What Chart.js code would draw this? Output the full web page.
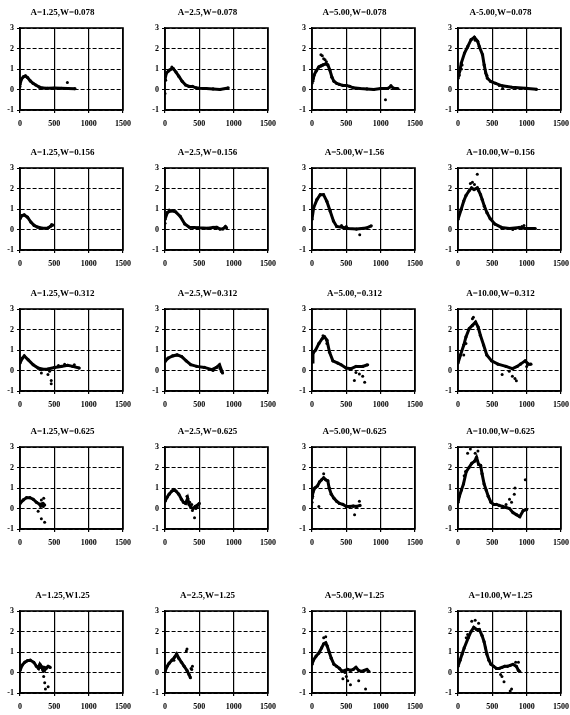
<!DOCTYPE html>
<html><head><meta charset="utf-8">
<script src="https://cdn.jsdelivr.net/npm/chart.js@4"></script>
<style>
html,body{margin:0;padding:0;background:#fff;width:570px;height:715px;overflow:hidden;position:relative}
canvas{position:absolute}
</style></head><body>
<script>
const titles = ["A=1.25,W=0.078","A=2.5,W=0.078","A=5.00,W=0.078","A-5.00,W=0.078",
 "A=1.25,W=0.156","A=2.5,W=0.156","A=5.00,W=1.56","A=10.00,W=0.156",
 "A=1.25,W=0.312","A=2.5,W=0.312","A=5.00,=0.312","A=10.00,W=0.312",
 "A=1.25,W=0.625","A=2.5,W=0.625","A=5.00,W=0.625","A=10.00,W=0.625",
 "A=1.25,W1.25","A=2.5,W=1.25","A=5.00,W=1.25","A=10.00,W=1.25"];
const xTicks = [0,500,1000,1500];
const yTicks = [-1,0,1,2,3];

const c1 = [[0,0.25],[20,0.5],[50,0.62],[80,0.66],[110,0.58],[150,0.42],[190,0.3],[230,0.22],[280,0.12],[330,0.07],[400,0.06],[500,0.07],[600,0.06],[700,0.05],[800,0.04]];
const o1 = [[690,0.34],[0,0.15]];
const c2 = [[0,0.5],[20,0.8],[50,0.9],[90,1.0],[120,1.02],[160,0.85],[200,0.65],[250,0.4],[300,0.22],[350,0.15],[400,0.15],[450,0.08],[500,0.06],[600,0.05],[700,0.03],[800,0.0],[880,0.05],[920,0.08]];
const o2 = [[0,-0.2],[10,0.45],[100,1.1],[60,0.95]];
const c3 = [[10,0.4],[30,0.7],[60,0.9],[100,1.1],[130,1.15],[160,1.2],[200,1.25],[230,1.2],[260,0.95],[290,0.6],[320,0.4],[360,0.3],[400,0.25],[450,0.2],[500,0.2],[550,0.15],[600,0.08],[700,0.05],[800,0.03],[900,0.0],[1000,0.05],[1100,0.05],[1150,0.15],[1200,0.05],[1250,0.05]];
const o3 = [[130,1.7],[150,1.65],[170,1.5],[190,1.45],[210,1.35],[0,0.3],[20,0.55],[1070,-0.5],[1150,0.2]];
const c4 = [[0,0.55],[24,0.88],[48,1.29],[95,1.78],[143,2.1],[190,2.43],[238,2.55],[286,2.35],[310,2.1],[357,1.7],[381,1.2],[405,0.8],[429,0.55],[476,0.39],[548,0.3],[643,0.18],[786,0.11],[976,0.06],[1143,0.01]];
const o4 = [[48,1.0],[60,1.2],[20,0.7],[250,2.4],[420,0.7],[600,0.2],[650,0.05]];
const c5 = [[0,0.52],[29,0.68],[62,0.71],[110,0.6],[158,0.36],[206,0.2],[254,0.12],[326,0.06],[398,0.06],[446,0.16],[479,0.22]];
const o5 = [[420,0.1],[460,0.25]];
const c6 = [[0,0.5],[35,0.83],[89,0.91],[155,0.86],[222,0.64],[288,0.27],[355,0.11],[488,0.08],[621,0.06],[700,0.1],[754,0.11],[800,0.02],[843,0.03],[880,0.14],[896,0.08]];
const o6 = [[0,0.3],[60,0.95]];
const c7 = [[0,0.5],[24,1.06],[72,1.46],[120,1.7],[168,1.7],[216,1.38],[264,0.9],[312,0.42],[359,0.15],[455,0.1],[527,0.05],[647,0.02],[791,0.07],[863,0.18]];
const o7 = [[0,0.8],[695,-0.25],[500,0.15],[430,0.2]];
const c8 = [[0,0.5],[47,0.99],[84,1.39],[117,1.66],[164,1.9],[197,2.03],[234,1.95],[281,2.03],[328,1.7],[352,1.46],[384,1.14],[422,0.82],[469,0.53],[539,0.26],[633,0.1],[750,0.05],[891,0.1],[984,0.05],[1125,0.05]];
const o8 = [[281,2.7],[210,2.3],[240,2.2],[300,1.9],[180,2.25],[797,0.0],[961,0.2],[930,0.15]];
const c9 = [[0,0.36],[34,0.6],[62,0.71],[120,0.52],[192,0.28],[264,0.12],[335,0.06],[407,0.07],[503,0.15],[599,0.2],[695,0.25],[767,0.2],[863,0.12]];
const o9 = [[311,-0.12],[407,-0.2],[431,-0.04],[455,-0.49],[455,-0.65],[791,0.28],[650,0.3],[560,0.25]];
const c10 = [[0,0.44],[44,0.6],[110,0.71],[176,0.76],[243,0.68],[309,0.47],[375,0.28],[463,0.2],[574,0.15],[684,0.04],[750,0.15],[794,0.28],[838,-0.12]];
const o10 = [[800,0.1],[700,0.0],[820,-0.05]];
const c11 = [[0,0.41],[14,0.84],[53,1.0],[101,1.32],[150,1.56],[183,1.64],[217,1.48],[256,0.89],[304,0.47],[376,0.36],[424,0.28],[497,0.12],[569,0.09],[641,0.2],[738,0.2],[810,0.28]];
const o11 = [[0,0.76],[217,1.32],[617,-0.49],[690,-0.17],[738,-0.28],[767,-0.57],[640,-0.1],[160,1.7]];
const c12 = [[0,0.36],[37,0.76],[84,1.24],[116,1.64],[163,2.04],[210,2.2],[256,2.36],[293,2.12],[326,1.72],[373,1.24],[419,0.76],[489,0.47],[582,0.31],[699,0.2],[792,0.09],[862,0.2],[909,0.31],[978,0.47],[1025,0.31],[1062,0.31]];
const o12 = [[224,2.6],[210,2.52],[116,1.32],[84,0.76],[643,-0.2],[746,-0.04],[792,-0.28],[829,-0.39],[850,-0.5],[1000,0.2]];
const c13 = [[0,0.25],[48,0.42],[96,0.53],[144,0.53],[192,0.45],[240,0.3],[288,0.2],[335,0.25],[359,0.17]];
const o13 = [[311,0.42],[345,0.5],[264,-0.13],[311,-0.5],[359,-0.67],[300,0.1],[340,0.1]];
const c14 = [[0,0.35],[30,0.55],[60,0.7],[100,0.85],[130,0.92],[160,0.85],[200,0.7],[240,0.45],[270,0.3],[300,0.25],[330,0.5],[350,0.2],[380,0.05],[410,0.0],[440,0.1],[470,0.15],[500,0.25]];
const o14 = [[320,0.6],[360,0.3],[400,-0.1],[430,-0.45],[450,0.0],[470,0.05],[390,0.2]];
const c15 = [[0,0.5],[15,0.8],[40,1.0],[80,1.1],[110,1.3],[140,1.4],[170,1.5],[200,1.4],[230,1.35],[250,1.0],[280,0.7],[320,0.5],[360,0.35],[400,0.25],[450,0.2],[500,0.1],[550,0.1],[600,0.12],[650,0.1],[700,0.15]];
const o15 = [[0,0.3],[10,0.6],[170,1.7],[100,0.1],[620,-0.3],[690,0.35]];
const c16 = [[0,0.3],[20,0.6],[50,0.9],[80,1.2],[120,1.8],[160,2.0],[200,2.2],[240,2.3],[270,2.5],[300,2.15],[330,2.1],[350,1.7],[380,1.2],[410,0.9],[440,0.6],[480,0.3],[520,0.2],[560,0.2],[600,0.15],[650,0.1],[700,0.05],[750,0.0],[800,-0.2],[850,-0.3],[900,-0.4],[950,-0.1],[1000,-0.05]];
const o16 = [[180,2.9],[140,2.7],[110,1.8],[90,1.6],[250,2.7],[290,2.8],[820,0.7],[830,1.0],[980,1.4],[750,0.45],[780,0.3],[700,0.2]];
const c17 = [[0,0.1],[30,0.35],[70,0.5],[110,0.58],[150,0.6],[200,0.5],[240,0.3],[270,0.2],[290,0.4],[310,0.3],[330,0.15],[350,0.25],[380,0.2],[410,0.3],[440,0.25]];
const o17 = [[300,0.25],[340,0.05],[345,-0.2],[360,-0.5],[370,-0.8],[410,-0.7],[360,0.1]];
const c18 = [[0,0.05],[30,0.3],[60,0.45],[100,0.6],[140,0.75],[170,0.9],[200,0.7],[240,0.5],[280,0.3],[320,0.1],[350,-0.1],[370,-0.25]];
const o18 = [[380,0.2],[400,0.3],[390,0.15],[310,1.05],[320,1.15],[130,0.6]];
const c19 = [[0,0.4],[20,0.6],[60,0.8],[100,0.95],[140,1.2],[170,1.4],[200,1.45],[220,1.3],[250,1.0],[280,0.7],[320,0.4],[360,0.3],[400,0.2],[440,0.05],[480,0.1],[520,0.15],[560,0.1],[600,0.15],[640,0.25],[680,0.1],[720,0.05],[760,0.1],[800,0.15],[830,0.05]];
const o19 = [[170,1.7],[200,1.75],[450,-0.3],[500,-0.2],[560,-0.6],[680,-0.4],[780,-0.8],[480,0.0],[520,-0.4]];
const c20 = [[0,0.3],[30,0.6],[60,0.9],[90,1.2],[150,1.7],[190,2.0],[230,2.2],[270,2.1],[310,2.1],[350,1.8],[380,1.5],[400,1.2],[420,0.9],[450,0.6],[480,0.4],[520,0.3],[560,0.2],[600,0.2],[640,0.25],[680,0.3],[720,0.3],[760,0.35],[800,0.4],[850,0.3],[880,0.1],[900,0.05]];
const o20 = [[200,2.5],[250,2.55],[300,2.4],[120,1.7],[140,1.85],[640,-0.2],[620,-0.1],[670,-0.45],[780,-0.8],[760,-0.9],[840,0.5],[880,0.5]];

const curves = [c1,c2,c3,c4,c5,c6,c7,c8,c9,c10,c11,c12,c13,c14,c15,c16,c17,c18,c19,c20];
const outliers = [o1,o2,o3,o4,o5,o6,o7,o8,o9,o10,o11,o12,o13,o14,o15,o16,o17,o18,o19,o20];

const FONT = '"Liberation Serif", "Times New Roman", serif';
const plotLefts = [20,165,312,458];
const plotTops = [28,168,309,447,611];
const PW = 105, PH = 82, YAX = 20, XAX = 20, TITLEH = 23, RPAD = 12;

const framePlugin = {
  id:'frame',
  afterDraw(chart){
    const a = chart.chartArea, ctx = chart.ctx;
    ctx.save();
    ctx.strokeStyle = '#000';
    ctx.lineWidth = 1.6;
    ctx.strokeRect(a.left, a.top, a.right - a.left, a.bottom - a.top);
    ctx.restore();
  }
};

function toPts(arr){ return arr.map(p => ({x:p[0], y:p[1]})); }

for (let i = 0; i < 20; i++) {
  const r = Math.floor(i/4), c = i % 4;
  const cv = document.createElement('canvas');
  const W = YAX + PW + RPAD, H = TITLEH + PH + XAX;
  cv.width = W; cv.height = H;
  cv.style.width = W + 'px'; cv.style.height = H + 'px';
  cv.style.left = (plotLefts[c] - YAX) + 'px';
  cv.style.top = (plotTops[r] - TITLEH) + 'px';
  document.body.appendChild(cv);
  new Chart(cv, {
    type:'scatter',
    data:{datasets:[
      {data:toPts(curves[i]), showLine:true, borderColor:'#000', backgroundColor:'#000', borderWidth:3, pointRadius:1.6, pointBorderWidth:0, tension:0},
      {data:toPts(outliers[i]), showLine:false, borderColor:'#000', backgroundColor:'#000', pointRadius:1.5, pointBorderWidth:0}
    ]},
    options:{
      responsive:false, animation:false, devicePixelRatio:1, events:[],
      layout:{padding:{left:0, right:RPAD, top:0, bottom:0}},
      plugins:{
        legend:{display:false}, tooltip:{enabled:false},
        title:{display:true, text:titles[i], color:'#000',
          font:{family:FONT, size:9, weight:'bold', lineHeight:1.2},
          padding:{top:2.2, bottom:10}}
      },
      scales:{
        x:{type:'linear', min:0, max:1500,
          afterBuildTicks:s => { s.ticks = xTicks.map(v => ({value:v})); },
          afterFit:s => { s.height = XAX; },
          ticks:{color:'#000', font:{family:FONT, size:8, weight:'bold'}, padding:6, maxRotation:0, autoSkip:false,
            callback:v => String(v)},
          grid:{color:'#000', lineWidth:1.2, tickLength:3, tickColor:'#000'},
          border:{color:'#000', width:1.6}
        },
        y:{type:'linear', min:-1, max:3,
          afterBuildTicks:s => { s.ticks = yTicks.map(v => ({value:v})); },
          afterFit:s => { s.width = YAX; },
          ticks:{color:'#000', font:{family:FONT, size:8, weight:'bold'}, padding:3, autoSkip:false,
            callback:v => String(v)},
          grid:{color:'#000', lineWidth:1, tickLength:3, tickColor:'#000'},
          border:{color:'#000', width:1.6, dash:[4,2]}
        }
      }
    },
    plugins:[framePlugin]
  });
}
</script>
</body></html>
